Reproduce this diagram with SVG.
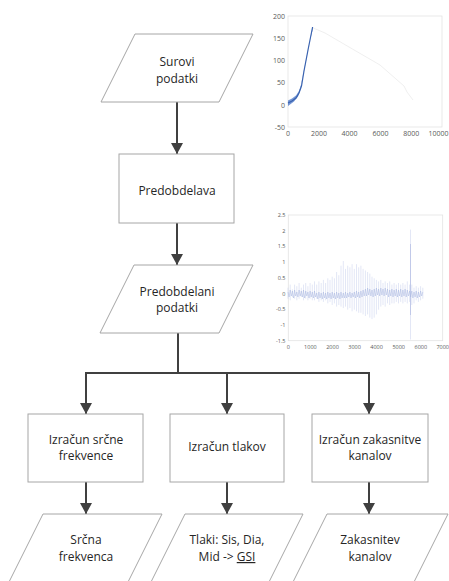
<svg xmlns="http://www.w3.org/2000/svg" width="449" height="581" viewBox="0 0 449 581">
<style>
.shape{fill:#fff;stroke:#a6a6a6;stroke-width:1}
.lbl{font-family:"Open Sans","Liberation Sans",sans-serif;font-size:12px;fill:#262626;text-anchor:middle}
.conn{fill:none;stroke:#404040;stroke-width:2}
.ax{font-family:"Open Sans","Liberation Sans",sans-serif;fill:#595959}
.frame{fill:none;stroke:#e3e3e3;stroke-width:0.8}
</style>
<defs>
<marker id="ah" markerUnits="userSpaceOnUse" markerWidth="12" markerHeight="12" viewBox="0 0 12 12" refX="11" refY="6" orient="auto">
<path d="M0,0 L11,6 L0,12 Z" fill="#404040"/>
</marker>
</defs>
<rect width="449" height="581" fill="#fff"/>

<!-- chart 1 -->
<g id="chart1">
<rect class="frame" x="288" y="16" width="154" height="111"/>
<g class="ax" font-size="7" text-anchor="end">
<text x="285" y="18.5">200</text>
<text x="285" y="40.8">150</text>
<text x="285" y="63">100</text>
<text x="285" y="85.2">50</text>
<text x="285" y="107.5">0</text>
<text x="285" y="129.5">-50</text>
</g>
<g class="ax" font-size="7" text-anchor="middle">
<text x="288" y="136">0</text>
<text x="319" y="136">2000</text>
<text x="349.6" y="136">4000</text>
<text x="380.4" y="136">6000</text>
<text x="411.2" y="136">8000</text>
<text x="448.5" y="136" text-anchor="end">10000</text>
</g>
<polyline points="313,28 318,30 325,33 349,47 380,65 404,86 407,92 413,100" fill="none" stroke="#e4e4e4" stroke-width="0.6"/>
<polygon points="288,100.5 292,98.5 296,95.5 299,91 301,85 304,70 308,50 312.6,27 313,28.5 310,40 306,61 303,76 300.5,89.5 298,96.5 294,101.5 290,104.5 288,106" fill="#4472c4" opacity="0.75"/>
<polyline points="288,103 292,101 296,98 299,93 301.5,86 304,71 308,50 312.6,27" fill="none" stroke="#3a63b0" stroke-width="1.2"/>
</g>

<!-- chart 2 -->
<g id="chart2">
<rect class="frame" x="288.3" y="215" width="154.4" height="125.7"/>
<g class="ax" font-size="5.5" text-anchor="end">
<text x="285.5" y="217">2.5</text>
<text x="285.5" y="232.7">2</text>
<text x="285.5" y="248.4">1.5</text>
<text x="285.5" y="264.1">1</text>
<text x="285.5" y="279.8">0.5</text>
<text x="285.5" y="295.5">0</text>
<text x="285.5" y="311.2">-0.5</text>
<text x="285.5" y="326.9">-1</text>
<text x="285.5" y="342.6">-1.5</text>
</g>
<g class="ax" font-size="5.5" text-anchor="middle">
<text x="288.3" y="348.8">0</text>
<text x="310.4" y="348.8">1000</text>
<text x="332.5" y="348.8">2000</text>
<text x="354.6" y="348.8">3000</text>
<text x="376.6" y="348.8">4000</text>
<text x="398.7" y="348.8">5000</text>
<text x="420.8" y="348.8">6000</text>
<text x="442.7" y="348.8">7000</text>
</g>
<path fill="none" stroke="#c6cfec" stroke-width="0.5" d="M288 287.7V298.7M290.2 284.6V300.3M292.4 289.3V297.1M294.6 284.6V298.7M296.8 286.2V300.3M299.1 283V298.7M301.3 287.7V297.1M303.5 284.6V300.3M305.7 283V298.7M307.9 286.2V300.3M310.1 283V298.7M312.3 284.6V300.3M314.5 281.4V300.3M316.7 284.6V298.7M318.9 281.4V301.9M321.2 283V300.3M323.4 279.9V301.9M325.6 283V300.3M327.8 278.3V303.4M330 279.9V301.9M332.2 276.7V305M334.4 278.3V303.4M336.6 272V306.6M338.8 275.2V305M341 265.7V306.6M343.3 261V308.1M345.5 268.9V306.6M347.7 265.7V309.7M349.9 267.3V308.1M352.1 264.2V311.3M354.3 268.9V309.7M356.5 264.2V311.3M358.7 267.3V312.8M360.9 265.7V312.8M363.1 268.9V314.4M365.4 270.5V316M367.6 272V314.4M369.8 273.6V317.6M372 276.7V319.1M374.2 278.3V317.6M376.4 279.9V314.4M378.6 281.4V309.7M380.8 279.9V306.6M383 283V305M385.2 281.4V306.6M387.5 283V303.4M389.7 281.4V305M391.9 284.6V303.4M394.1 283V303.4M396.3 284.6V301.9M398.5 283V303.4M400.7 284.6V301.9M402.9 283V303.4M405.1 284.6V301.9M407.3 281.4V303.4M409.6 284.6V301.9M411.8 284.6V305M414 287.7V303.4M416.2 286.2V300.3M418.4 287.7V301.9M420.6 286.2V300.3M422.8 287.7V298.7"/>
<path fill="none" stroke="#c6cfec" stroke-width="0.5" d="M410.5 229.6V339.5"/>
<path fill="none" stroke="#a9b6e0" stroke-width="0.6" d="M410.5 244V315"/>
<polyline fill="none" stroke="#a9b6e0" stroke-width="0.5" points="288,292 289.1,297 290.2,290 291.3,296 292.4,291 293.5,298 294.6,290 295.7,296 296.8,292 297.9,297 299.1,290 300.2,296 301.3,291 302.4,297 303.5,290 304.6,298 305.7,291 306.8,296 307.9,292 309,298 310.1,291 311.2,297 312.3,292 313.4,298 314.5,291 315.6,297 316.7,293 317.8,299 318.9,292 320,298 321.2,293 322.3,299 323.4,292 324.5,298 325.6,293 326.7,299 327.8,292 328.9,298 330,293 331.1,299 332.2,292 333.3,298 334.4,293 335.5,299 336.6,292 337.7,298 338.8,293 339.9,299 341,292 342.1,298 343.3,293 344.4,298 345.5,292 346.6,298 347.7,293 348.8,297 349.9,292 351,298 352.1,293 353.2,297 354.3,292 355.4,298 356.5,291 357.6,297 358.7,292 359.8,298 360.9,291 362,297 363.1,290 364.2,296 365.4,289 366.5,296 367.6,288 368.7,295 369.8,289 370.9,296 372,290 373.1,297 374.2,289 375.3,296 376.4,288 377.5,295 378.6,289 379.7,296 380.8,288 381.9,295 383,289 384.1,296 385.2,288 386.3,295 387.5,289 388.6,297 389.7,290 390.8,296 391.9,289 393,297 394.1,290 395.2,296 396.3,289 397.4,297 398.5,290 399.6,296 400.7,289 401.8,297 402.9,290 404,296 405.1,289 406.2,297 407.3,290 408.4,296 409.6,291 410.7,297 411.8,291 412.9,298 414,292 415.1,297 416.2,291 417.3,298 418.4,292 419.5,297 420.6,291 421.7,296 422.8,292"/>
</g>

<!-- connectors -->
<g id="connectors">
<line class="conn" x1="177" y1="102" x2="177" y2="154" marker-end="url(#ah)"/>
<line class="conn" x1="177" y1="223" x2="177" y2="265" marker-end="url(#ah)"/>
<polyline class="conn" points="178,333 178,373"/>
<polyline class="conn" points="86,373 369,373"/>
<line class="conn" x1="86" y1="372" x2="86" y2="414" marker-end="url(#ah)"/>
<line class="conn" x1="227" y1="372" x2="227" y2="414" marker-end="url(#ah)"/>
<line class="conn" x1="369" y1="372" x2="369" y2="414" marker-end="url(#ah)"/>
<line class="conn" x1="86" y1="482" x2="86" y2="514" marker-end="url(#ah)"/>
<line class="conn" x1="227" y1="482" x2="227" y2="514" marker-end="url(#ah)"/>
<line class="conn" x1="369" y1="482" x2="369" y2="514" marker-end="url(#ah)"/>
</g>

<!-- nodes -->
<g id="surovi">
<polygon class="shape" points="135,34 253,34 219,102 101,102"/>
<text class="lbl" x="177" y="66">Surovi</text>
<text class="lbl" x="177" y="83">podatki</text>
</g>
<g id="predobdelava">
<rect class="shape" x="119" y="154" width="115" height="69"/>
<text class="lbl" x="177" y="195">Predobdelava</text>
</g>
<g id="predobdelani">
<polygon class="shape" points="134,265 253,265 219,333 100,333"/>
<text class="lbl" x="177" y="296">Predobdelani</text>
<text class="lbl" x="177" y="312">podatki</text>
</g>
<g id="izracun-srcne">
<rect class="shape" x="28" y="414" width="115" height="68"/>
<text class="lbl" x="86" y="444">Izračun srčne</text>
<text class="lbl" x="86" y="460">frekvence</text>
</g>
<g id="izracun-tlakov">
<rect class="shape" x="170" y="414" width="114" height="68"/>
<text class="lbl" x="227" y="451">Izračun tlakov</text>
</g>
<g id="izracun-zakasnitve">
<rect class="shape" x="312" y="414" width="116" height="68"/>
<text class="lbl" x="370" y="444">Izračun zakasnitve</text>
<text class="lbl" x="370" y="460">kanalov</text>
</g>
<g id="srcna-frekvenca">
<polygon class="shape" points="43,514 162,514 128,582 9,582"/>
<text class="lbl" x="86" y="544">Srčna</text>
<text class="lbl" x="86" y="561">frekvenca</text>
</g>
<g id="tlaki">
<polygon class="shape" points="185,514 303,514 269,582 151,582"/>
<text class="lbl" x="227" y="544">Tlaki: Sis, Dia,</text>
<text class="lbl" x="227" y="561">Mid -&gt; <tspan text-decoration="underline">GSI</tspan></text>
</g>
<g id="zakasnitev">
<polygon class="shape" points="327,514 448,514 414,582 293,582"/>
<text class="lbl" x="370" y="544">Zakasnitev</text>
<text class="lbl" x="370" y="561">kanalov</text>
</g>
</svg>
